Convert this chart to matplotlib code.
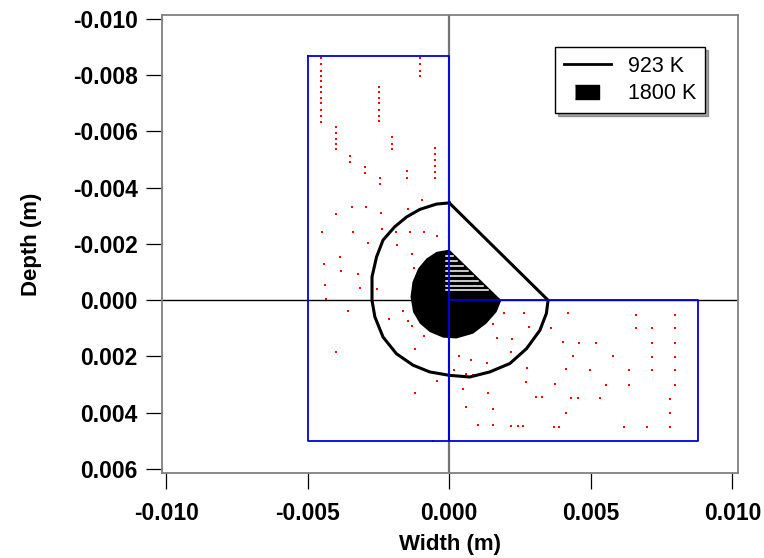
import matplotlib.pyplot as plt
import numpy as np
from matplotlib.lines import Line2D

plt.rcParams['font.family'] = ['Liberation Sans', 'DejaVu Sans']

# 923 K isotherm (m), traced clockwise from the top
iso923_x = [0.0, -0.00045, -0.00104, -0.00151, -0.00193, -0.00234, -0.00257, -0.00273,
            -0.00273, -0.00263, -0.00234, -0.00187, -0.00128, -0.00069, 0.0, 0.00072,
            0.00143, 0.00214, 0.00273, 0.0032, 0.00343, 0.00349, 0.0]
iso923_y = [-0.00346, -0.00342, -0.00323, -0.00296, -0.00261, -0.00214, -0.00154, -0.00083,
            0.0, 0.00059, 0.00131, 0.0019, 0.00231, 0.00255, 0.00267, 0.00273,
            0.00255, 0.00225, 0.00172, 0.00107, 0.00047, 0.0, -0.00346]

# 1800 K region
iso1800_x = [0.0, -0.00045, -0.00081, -0.0011, -0.0013, -0.00137, -0.00128, -0.00104,
             -0.00069, -0.00022, 0.00025, 0.00084, 0.00131, 0.00167, 0.00184, 0.0]
iso1800_y = [-0.0018, -0.00172, -0.00148, -0.00113, -0.00065, -0.00012, 0.00042, 0.00083,
             0.00113, 0.00133, 0.00136, 0.00119, 0.00083, 0.00042, 0.0, -0.0018]

# white stripes inside the 1800 K triangle
stripe_y = [-0.00157, -0.0014, -0.00121, -0.00104, -0.00087, -0.00069, -0.00051, -0.00036]

# blue domain outlines
left_box_x = [-0.005, 0.0, 0.0, -0.005, -0.005]
left_box_y = [-0.0087, -0.0087, 0.005, 0.005, -0.0087]
right_box_x = [0.0, 0.0088, 0.0088, 0.0, 0.0]
right_box_y = [0.0, 0.0, 0.005, 0.005, 0.0]

# red sample points
red_x = [-0.00452] * 12 + [-0.00102] * 4 + [-0.0025] * 7 + [-0.00401] * 5 + [-0.00201] * 3 \
    + [-0.00049] * 6 + [-0.00349] * 2 + [-0.00296] * 2 + [-0.00246] * 2 + [-0.00149] * 2
red_y = [-0.0086, -0.00839, -0.00816, -0.00797, -0.0078, -0.00759, -0.00739, -0.00718,
         -0.007, -0.00676, -0.00655, -0.00635,
         -0.0086, -0.0084, -0.00816, -0.00797,
         -0.00759, -0.00739, -0.00718, -0.007, -0.00676, -0.00655, -0.00637,
         -0.00617, -0.00595, -0.00575, -0.00554, -0.00536,
         -0.00579, -0.00556, -0.00536,
         -0.0054, -0.00519, -0.00498, -0.00477, -0.00457, -0.00435,
         -0.00512, -0.00492,
         -0.00474, -0.00454,
         -0.00435, -0.00415,
         -0.00459, -0.00435]

# scattered points, left half
red_x += [-0.00096, -0.00343, -0.00293, -0.00399, -0.00243, -0.00147, -0.00448, -0.0034,
          -0.00239, -0.00189, -0.0014, -0.00091, -0.00045, -0.00286, -0.00234, -0.00183,
          -0.00387, -0.0013, -0.00443, -0.00382, -0.00322, -0.00123, -0.0044, -0.00316,
          -0.00254, -0.00436, -0.00359, -0.00213, -0.00165, -0.00147, -0.0013, -0.00088,
          -0.00401, -0.00122, 0.00035, 0.00016, -0.00045, -0.00122, -0.00057]
red_y += [-0.00356, -0.0033, -0.0033, -0.00306, -0.00311, -0.00323, -0.00241, -0.00244,
          -0.00253, -0.00241, -0.00244, -0.00244, -0.00228, -0.00205, -0.00211, -0.00198,
          -0.00154, -0.00166, -0.00128, -0.00104, -0.00093, -0.00115, -0.00053, -0.00045,
          -0.00039, -0.00004, 0.00039, 0.00066, 0.00039, 0.00075, 0.0009, 0.00128,
          0.00184, 0.00172, 0.00199, 0.00249, 0.00288, 0.0033, 0.00502]

# scattered points, right half
red_x += [0.00194, 0.00264, 0.00419, 0.00659, 0.00797, 0.00155, 0.00283, 0.00361, 0.00659,
          0.00716, 0.00797, 0.00167, 0.00221, 0.004, 0.00458, 0.00518, 0.00716, 0.00797,
          0.00217, 0.00036, 0.00436, 0.00577, 0.00716, 0.00797, 0.00075, 0.00133, 0.00276,
          0.00016, 0.00414, 0.00496, 0.00635, 0.00716, 0.00797, 0.00058, 0.00082, 0.0027,
          0.00373, 0.00554, 0.00635, 0.00797, 0.00047, 0.00136, 0.00306, 0.00329, 0.0043,
          0.00453, 0.00534, 0.00778, 0.00058, 0.00156, 0.00411, 0.00778, 0.00102, 0.00153,
          0.00217, 0.00241, 0.0026, 0.00369, 0.00388, 0.00617, 0.00698, 0.00778]
red_y += [0.00044, 0.00047, 0.00047, 0.00051, 0.00051, 0.00086, 0.00095, 0.00099, 0.00099,
          0.00099, 0.00099, 0.00133, 0.00138, 0.00149, 0.00152, 0.00152, 0.00152, 0.00152,
          0.00184, 0.00199, 0.00198, 0.00199, 0.00203, 0.00203, 0.00211, 0.00222, 0.00242,
          0.00249, 0.00246, 0.00249, 0.00249, 0.00249, 0.00249, 0.00262, 0.00266, 0.00292,
          0.00297, 0.003, 0.003, 0.003, 0.00316, 0.00331, 0.00344, 0.00344, 0.00348,
          0.00348, 0.00348, 0.00351, 0.00378, 0.00385, 0.00401, 0.00401, 0.00445, 0.00445,
          0.00448, 0.00448, 0.00448, 0.00452, 0.00452, 0.00452, 0.00452, 0.00452]

x_ticks = [-0.010, -0.005, 0.000, 0.005, 0.010]
y_ticks = [-0.010, -0.008, -0.006, -0.004, -0.002, 0.000, 0.002, 0.004, 0.006]

fig = plt.figure(figsize=(7.64, 5.58), dpi=100)
ax = fig.add_axes([0.212, 0.152, 0.754, 0.821])

# cross hairs
ax.axhline(0, color='black', lw=1, zorder=1)
ax.axvline(0, color='0.45', lw=1.6, zorder=1)

ax.plot(red_x, red_y, 's', color='red', ms=2.1, mew=0, zorder=2)

ax.fill(iso1800_x, iso1800_y, color='black', lw=0, zorder=3)
tri_top = min(iso1800_y)
tri_right = max(iso1800_x)
for sy in stripe_y:
    x_end = tri_right * (1 - sy / tri_top) - 0.00012
    ax.plot([-0.0001, x_end], [sy, sy], color='white', lw=1.1, zorder=4)

ax.plot(iso923_x, iso923_y, color='black', lw=2.2, zorder=5)

ax.plot(left_box_x, left_box_y, color='#0000dd', lw=1.3, zorder=6)
ax.plot(right_box_x, right_box_y, color='#0000dd', lw=1.3, zorder=6)

ax.set_xlim(-0.01015, 0.0102)
ax.set_ylim(0.00615, -0.01014)
ax.set_xticks(x_ticks)
ax.set_yticks(y_ticks)
ax.set_xticklabels(['%.3f' % v for v in x_ticks])
ax.set_yticklabels(['%.3f' % v for v in y_ticks])
ax.tick_params(direction='out', length=11.5, width=0.9, pad=6, labelsize=16.5)
ax.tick_params(axis='x', pad=9)
for lab in ax.get_xticklabels() + ax.get_yticklabels():
    lab.set_fontweight('bold')
for sp in ax.spines.values():
    sp.set_color('0.5')
    sp.set_linewidth(1.3)

ax.set_xlabel('Width (m)', fontsize=16, fontweight='bold', labelpad=7)
ax.set_ylabel('Depth (m)', fontsize=16, fontweight='bold', labelpad=22)

h1 = Line2D([], [], color='black', lw=2)
h2 = Line2D([], [], ls='none', color='black',
            marker=[(-1, -0.6), (1, -0.6), (1, 0.6), (-1, 0.6)], ms=17)
leg = ax.legend([h1, h2], ['923 K', '1800 K'], loc='upper right',
                bbox_to_anchor=(0.943, 0.93), fontsize=15.5, fancybox=False,
                shadow=True, framealpha=1, borderaxespad=0, handlelength=2.2,
                labelspacing=0.3, borderpad=0.4)
leg.get_frame().set_edgecolor('black')
leg.get_frame().set_linewidth(1)

plt.savefig('out.png', dpi=100)
